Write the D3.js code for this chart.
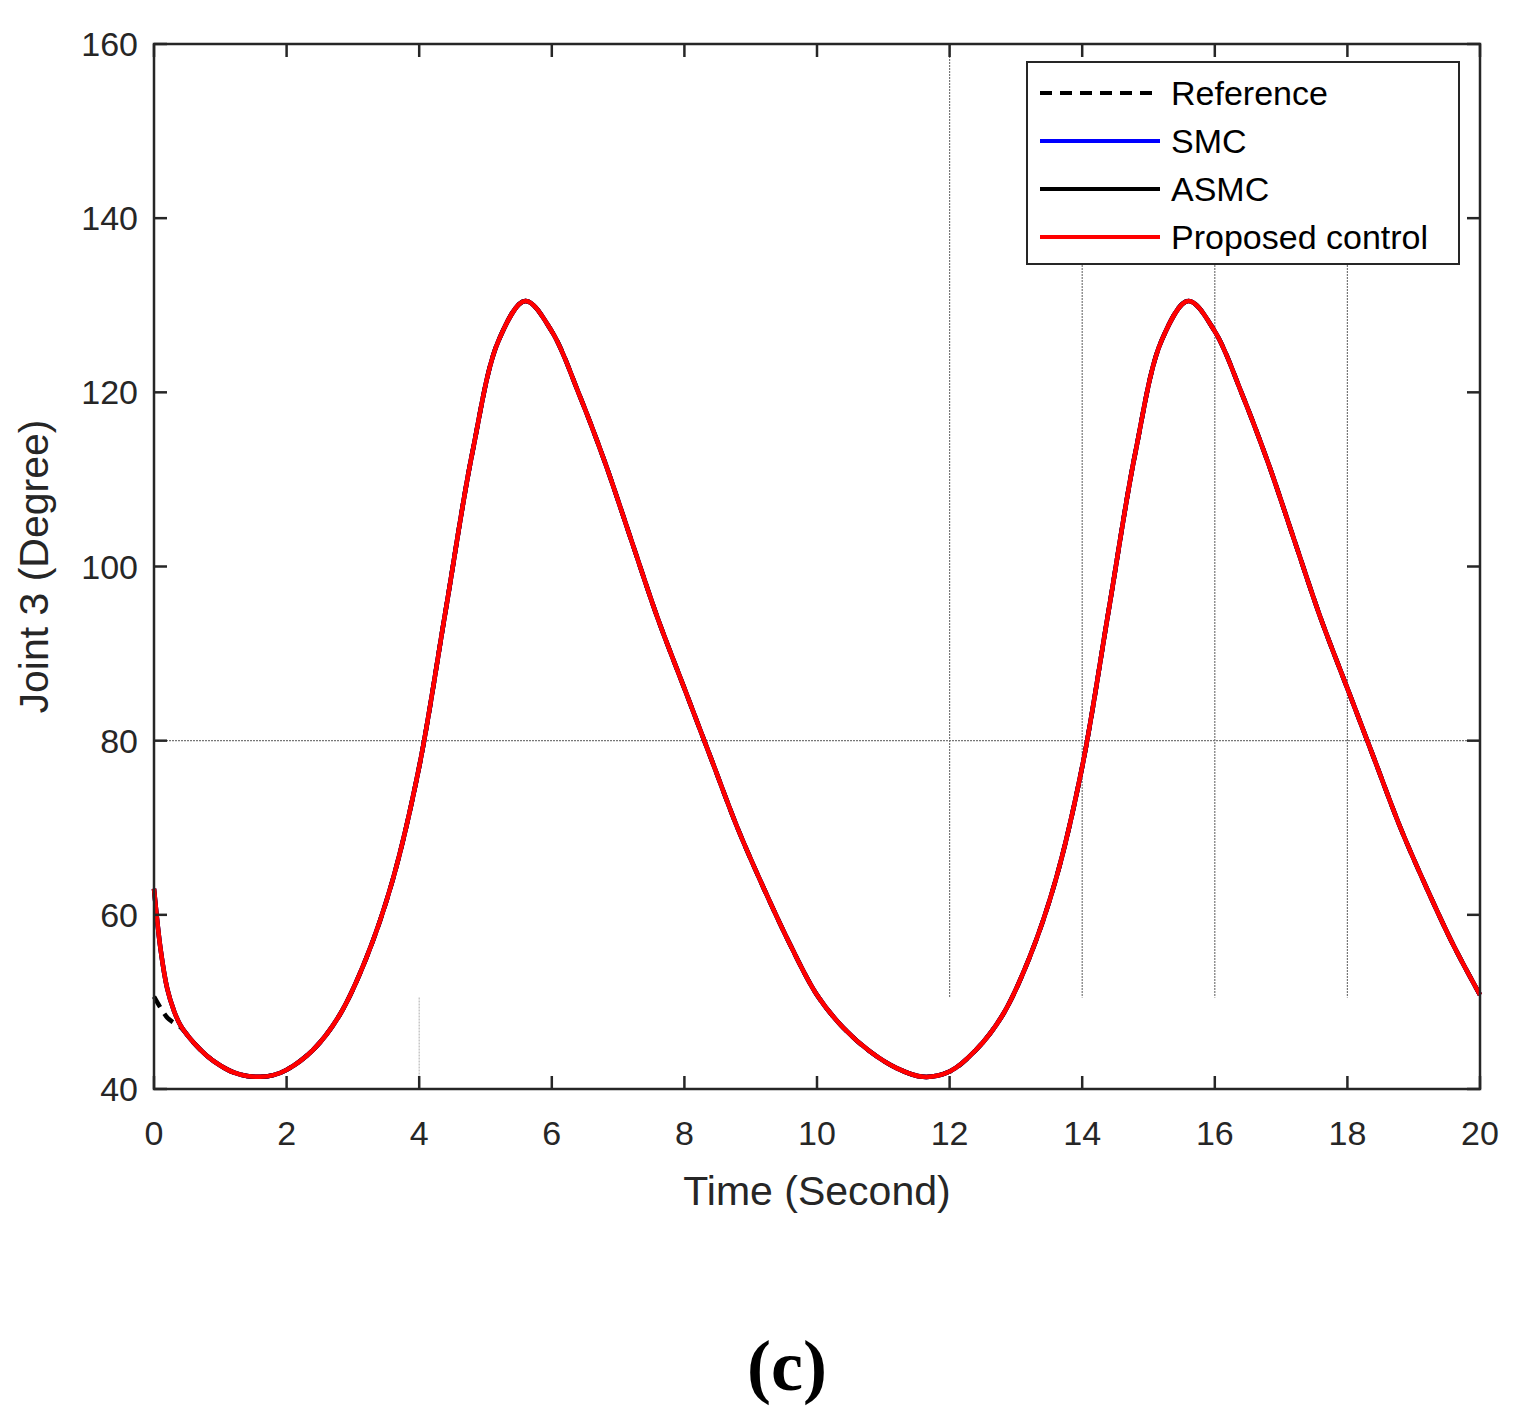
<!DOCTYPE html><html><head><meta charset="utf-8">
<script src="https://cdn.jsdelivr.net/npm/d3@7"></script>
<style>body{margin:0;background:#fff}</style></head><body>
<svg id="c" width="1536" height="1414"></svg>
<script>
const time = [0,0.1,0.2,0.3,0.4,0.6,0.8,1.0,1.2,1.4,1.6,1.8,2.0,2.4,2.8,3.2,3.6,4.0,4.4,4.8,5.2,5.6,6.0,6.4,6.8,7.2,7.6,8.0,8.4,8.8,9.2,9.6,10,10.4,10.8,11.2,11.6,12,12.4,12.8,13.2,13.6,14,14.4,14.8,15.2,15.6,16,16.4,16.8,17.2,17.6,18,18.4,18.8,19.2,19.6,20];
const proposed = [63,56,51.5,49,47.3,45.3,43.8,42.7,41.9,41.5,41.4,41.6,42.2,44.5,48.5,55,64,77,95,113,126,130.5,127,120,112,103,94,86,78,70,63,56.5,50.8,47,44.3,42.4,41.4,42,44.5,48.5,55,64,77,95,113,126,130.5,127,120,112,103,94,86,78,70,63,56.5,50.8];
const smc = proposed.slice();
const asmc = proposed.slice();
const reference = [50.6,49.3,48.2,47.6,47.1,45.3,43.8,42.7,41.9,41.5,41.4,41.6,42.2,44.5,48.5,55,64,77,95,113,126,130.5,127,120,112,103,94,86,78,70,63,56.5,50.8,47,44.3,42.4,41.4,42,44.5,48.5,55,64,77,95,113,126,130.5,127,120,112,103,94,86,78,70,63,56.5,50.8];
const xTicks = [0,2,4,6,8,10,12,14,16,18,20];
const yTicks = [40,60,80,100,120,140,160];
const legendLabels = ["Reference","SMC","ASMC","Proposed control"];

const svg = d3.select("#c");
const L=154,R=1480,T=44,B=1089;
const x = d3.scaleLinear().domain([0,20]).range([L,R]);
const y = d3.scaleLinear().domain([40,160]).range([B,T]);
const font = "'Liberation Sans', Arial, sans-serif";

const g = svg.append("g").attr("stroke","#777").attr("stroke-width",1.2).attr("stroke-dasharray","2,1");
g.append("line").attr("x1",L).attr("x2",R).attr("y1",y(80)).attr("y2",y(80));
g.append("line").attr("x1",x(4)).attr("x2",x(4)).attr("y1",y(50.5)).attr("y2",B).attr("stroke","#bbb");
g.append("line").attr("x1",x(12)).attr("x2",x(12)).attr("y1",T).attr("y2",y(50.5));
[14,16,18].forEach(v=>g.append("line").attr("x1",x(v)).attr("x2",x(v)).attr("y1",265).attr("y2",y(50.5)));

const line = arr => d3.line().x((d,i)=>x(time[i])).y(d=>y(d)).curve(d3.curveCatmullRom.alpha(0.5))(arr);
svg.append("path").attr("d",line(reference)).attr("fill","none").attr("stroke","#000").attr("stroke-width",4.5).attr("stroke-dasharray","12,8");
svg.append("path").attr("d",line(smc)).attr("fill","none").attr("stroke","#0000ff").attr("stroke-width",4.5);
svg.append("path").attr("d",line(asmc)).attr("fill","none").attr("stroke","#000").attr("stroke-width",4.5);
svg.append("path").attr("d",line(proposed)).attr("fill","none").attr("stroke","#ff0000").attr("stroke-width",4.5);

svg.append("rect").attr("x",L).attr("y",T).attr("width",R-L).attr("height",B-T).attr("fill","none").attr("stroke","#262626").attr("stroke-width",2.5);
const ax = svg.append("g").attr("stroke","#262626").attr("stroke-width",2.5);
xTicks.forEach(v=>{ax.append("line").attr("x1",x(v)).attr("x2",x(v)).attr("y1",B).attr("y2",B-13);ax.append("line").attr("x1",x(v)).attr("x2",x(v)).attr("y1",T).attr("y2",T+13);});
yTicks.forEach(v=>{ax.append("line").attr("y1",y(v)).attr("y2",y(v)).attr("x1",L).attr("x2",L+13);ax.append("line").attr("y1",y(v)).attr("y2",y(v)).attr("x1",R).attr("x2",R-13);});
svg.append("g").selectAll("text").data(xTicks).join("text").attr("x",d=>x(d)).attr("y",B+56).attr("text-anchor","middle").attr("font-family",font).attr("font-size",34).attr("fill","#262626").text(d=>d);
svg.append("g").selectAll("text").data(yTicks).join("text").attr("x",L-16).attr("y",d=>y(d)+12).attr("text-anchor","end").attr("font-family",font).attr("font-size",34).attr("fill","#262626").text(d=>d);
svg.append("text").attr("x",(L+R)/2).attr("y",1205).attr("text-anchor","middle").attr("font-family",font).attr("font-size",41).attr("fill","#262626").text("Time (Second)");
svg.append("text").attr("transform",`translate(48,${(T+B)/2}) rotate(-90)`).attr("text-anchor","middle").attr("font-family",font).attr("font-size",41).attr("fill","#262626").text("Joint 3 (Degree)");

svg.append("rect").attr("x",1027).attr("y",62).attr("width",432).attr("height",202).attr("fill","#fff").attr("stroke","#262626").attr("stroke-width",2);
const styles=[{c:"#000",d:"12,8"},{c:"#0000ff",d:null},{c:"#000",d:null},{c:"#ff0000",d:null}];
legendLabels.forEach((l,i)=>{const yy=93+i*48;
 svg.append("line").attr("x1",1040).attr("x2",1160).attr("y1",yy).attr("y2",yy).attr("stroke",styles[i].c).attr("stroke-width",4).attr("stroke-dasharray",styles[i].d);
 svg.append("text").attr("x",1171).attr("y",yy+12).attr("font-family",font).attr("font-size",34).attr("fill","#000").text(l);});

svg.append("text").attr("x",787).attr("y",1390).attr("text-anchor","middle").attr("font-family","'Liberation Serif', serif").attr("font-weight","bold").attr("font-size",72).text("(c)");
</script></body></html>
